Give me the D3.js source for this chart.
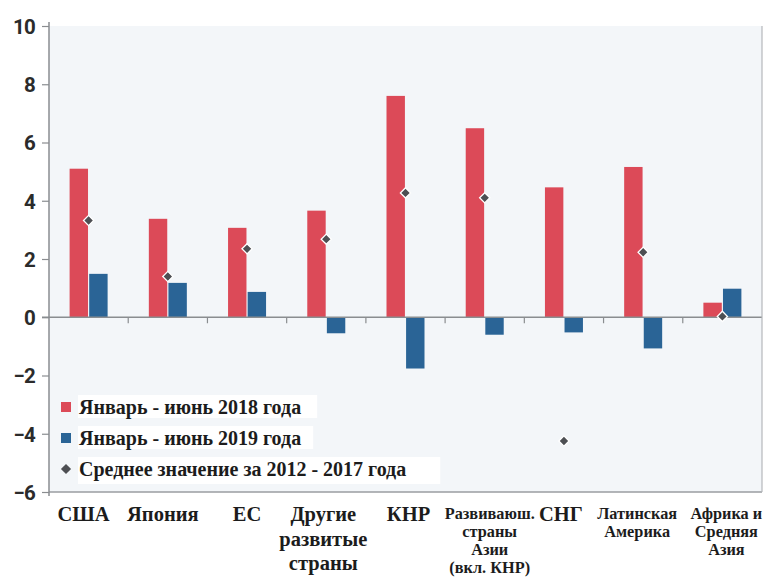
<!DOCTYPE html>
<html><head><meta charset="utf-8">
<script src="https://cdn.jsdelivr.net/npm/d3@7"></script>
<style>
html,body{margin:0;padding:0;background:#fff;}
svg{display:block;}
</style></head>
<body>
<svg id="chart" width="764" height="587"></svg>
<script>
const categories = ["США","Япония","ЕС","Другие развитые страны","КНР","Развиваюш. страны Азии (вкл. КНР)","СНГ","Латинская Америка","Африка и Средняя Азия"];
const categoryLines = [["США"],["Япония"],["ЕС"],["Другие","развитые","страны"],["КНР"],["Развиваюш.","страны","Азии","(вкл. КНР)"],["СНГ"],["Латинская","Америка"],["Африка и","Средняя","Азия"]];
const largeLabel = [true,true,true,true,true,false,true,false,false];
const seriesNames = ["Январь - июнь 2018 года","Январь - июнь 2019 года"];
const avgName = "Среднее значение за 2012 - 2017 года";
const h1_2018 = [5.1, 3.38, 3.07, 3.66, 7.6, 6.49, 4.46, 5.16, 0.5];
const h1_2019 = [1.49, 1.18, 0.87, -0.55, -1.76, -0.6, -0.52, -1.07, 0.98];
const avg2012_2017 = [3.32, 1.4, 2.35, 2.68, 4.27, 4.1, -4.25, 2.23, 0.03];
const yTicks = [-6,-4,-2,0,2,4,6,8,10];
const colors = ["#dc4a58","#2a6496"];
const avgColor = "#4d4f53";
// small horizontal nudges of the category labels (style only)
const labelNudge = [-5,-5,0,-3,3,5,-3,-6,4];

const svg = d3.select("#chart");
const L = 49, R = 762, T = 26, B = 492;
const y = d3.scaleLinear().domain([-6,10]).range([B, T]);
const x = d3.scaleBand().domain(categories).range([L, R]).padding(0);
const bw = x.bandwidth();
const xs = d3.scaleBand().domain([0,1]).range([bw/2-19, bw/2+19]).paddingInner(0.06);

// plot background
svg.append("rect").attr("x", L).attr("y", T).attr("width", R-L).attr("height", B-T).attr("fill", "#f3f6f9");

// bars
const series = [h1_2018, h1_2019];
series.forEach((vals, si) => {
  svg.append("g").selectAll("rect").data(vals).join("rect")
    .attr("x", (d,i) => x(categories[i]) + xs(si))
    .attr("width", xs.bandwidth())
    .attr("y", d => y(Math.max(0,d)))
    .attr("height", d => Math.abs(y(d) - y(0)))
    .attr("fill", colors[si]);
});

// zero line
svg.append("line").attr("x1", 42).attr("x2", R).attr("y1", y(0)).attr("y2", y(0)).attr("stroke", "#8a8d90").attr("stroke-width", 1.5);
// category ticks
svg.append("g").selectAll("line").data(categories.slice(1)).join("line")
  .attr("x1", d => x(d)).attr("x2", d => x(d))
  .attr("y1", y(0)).attr("y2", y(0)+6)
  .attr("stroke", "#8a8d90").attr("stroke-width", 1.2);

// borders
svg.append("line").attr("x1", L).attr("x2", R).attr("y1", B).attr("y2", B).attr("stroke", "#9a9da0").attr("stroke-width", 1.5);
svg.append("line").attr("x1", R).attr("x2", R).attr("y1", T).attr("y2", B).attr("stroke", "#b5b8bb").attr("stroke-width", 1.2);

// diamonds
const diamond = d3.symbol().type(d3.symbolSquare).size(52);
svg.append("g").selectAll("path").data(avg2012_2017).join("path")
  .attr("d", diamond)
  .attr("transform", (d,i) => `translate(${x(categories[i]) + bw/2},${y(d)}) rotate(45)`)
  .attr("fill", avgColor).attr("stroke", "#fff").attr("stroke-width", 1.3);

// y axis
const yAxis = d3.axisLeft(y).tickValues(yTicks).tickSize(7).tickPadding(7).tickFormat(d3.format("d"));
const ya = svg.append("g").attr("transform", `translate(${L},0)`).call(yAxis);
ya.select(".domain").attr("stroke", "#8a8d90").attr("stroke-width", 1.5).attr("d", `M0,${T-4}V${B+4}`);
ya.selectAll(".tick line").attr("stroke", "#8a8d90").attr("stroke-width", 1.2);
ya.selectAll(".tick text").attr("font-family", "Roboto, sans-serif").attr("font-weight", 700)
  .attr("font-size", 20.5).attr("fill", "#2b2b2b").attr("dy", "0.36em").attr("letter-spacing", "-0.8");

// x labels
const xl = svg.append("g");
categoryLines.forEach((lines, i) => {
  const big = largeLabel[i];
  const fs = big ? 20.5 : 16.3;
  const lh = big ? 24.5 : 18;
  const t = xl.append("text").attr("text-anchor", "middle")
    .attr("font-family", "'Liberation Serif', 'Times New Roman', serif")
    .attr("font-weight", "bold").attr("font-size", fs).attr("fill", "#1c1c1c");
  lines.forEach((ln, k) => {
    t.append("tspan").attr("x", x(categories[i]) + bw/2 + labelNudge[i]).attr("y", (big ? 521 : 519) + k*lh).text(ln);
  });
});

// legend
const legendItems = [
  {name: seriesNames[0], type: "sq", color: colors[0], pad: 17},
  {name: seriesNames[1], type: "sq", color: colors[1], pad: 13},
  {name: avgName, type: "dm", color: avgColor, pad: 35}
];
const lg = svg.append("g");
legendItems.forEach((it, k) => {
  const cy = 407 + k*31;
  const g = lg.append("g");
  const bg = g.append("rect").attr("fill", "#fff");
  const txt = g.append("text").attr("x", 79).attr("y", cy).attr("dy", "0.35em")
    .attr("font-family", "'Liberation Serif', 'Times New Roman', serif")
    .attr("font-weight", "bold").attr("font-size", 20).attr("fill", "#1c1c1c").text(it.name);
  const w = txt.node().getComputedTextLength();
  bg.attr("x", 78).attr("y", cy-12).attr("width", w + it.pad).attr("height", k === 2 ? 27 : 23);
  if (it.type === "sq") {
    g.append("rect").attr("x", 61).attr("y", cy-5).attr("width", 10).attr("height", 10).attr("fill", it.color);
  } else {
    g.append("path").attr("d", d3.symbol().type(d3.symbolSquare).size(52)())
      .attr("transform", `translate(66,${cy}) rotate(45)`).attr("fill", it.color);
  }
});
</script>
</body></html>
